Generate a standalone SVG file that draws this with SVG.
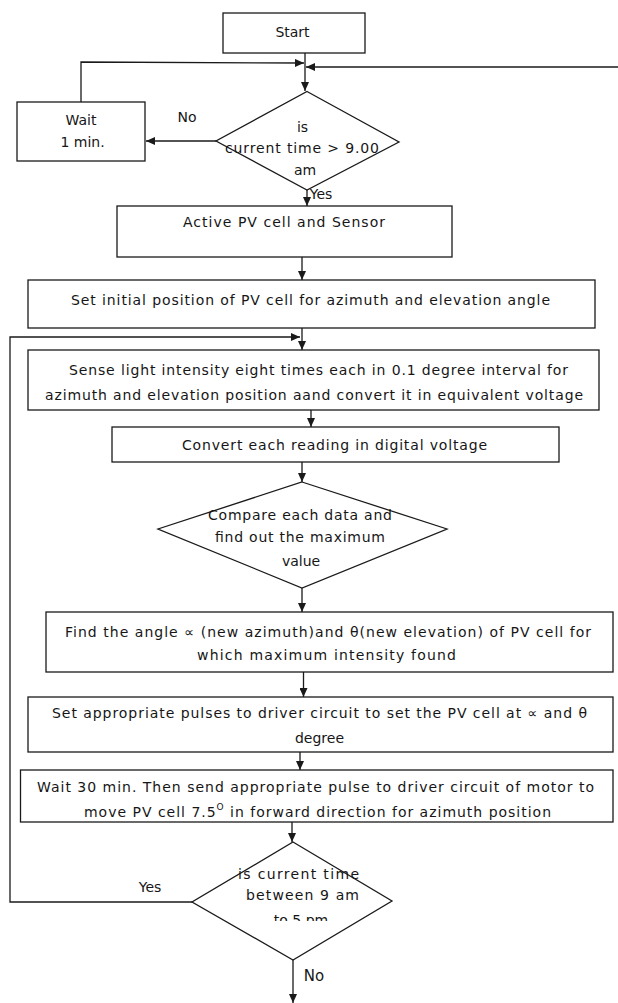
<svg xmlns="http://www.w3.org/2000/svg" width="618" height="1003" viewBox="0 0 618 1003">
<style>
.box{fill:#fff;stroke:#1a1a1a;stroke-width:1.3}
.ln{fill:none;stroke:#1a1a1a;stroke-width:1.3}
.arr{marker-end:url(#ah)}
text{font-family:"DejaVu Sans","Verdana",sans-serif;font-size:14px;fill:#161616;text-anchor:middle}
</style>
<defs>
<marker id="ah" markerUnits="userSpaceOnUse" markerWidth="9" markerHeight="8" refX="9" refY="4" orient="auto">
<path d="M0,0 L9,4 L0,8 z" fill="#1a1a1a"/>
</marker>
<clipPath id="clipTo5"><rect x="180" y="840" width="240" height="81"/></clipPath>
</defs>
<rect width="618" height="1003" fill="#fff"/>

<g id="connectors">
<line class="ln arr" x1="305" y1="53" x2="305" y2="91"/>
<polyline class="ln arr" points="81,102 81,62 304,63"/>
<line class="ln arr" x1="618" y1="67" x2="306" y2="67"/>
<line class="ln arr" x1="216" y1="141" x2="146" y2="141"/>
<line class="ln arr" x1="307" y1="190" x2="307" y2="206"/>
<line class="ln arr" x1="302" y1="257" x2="302" y2="280"/>
<line class="ln arr" x1="302" y1="328" x2="302" y2="350"/>
<polyline class="ln arr" points="192,902 10,902 10,337 300,337"/>
<line class="ln arr" x1="311" y1="410" x2="311" y2="427"/>
<line class="ln arr" x1="302" y1="462" x2="302" y2="482"/>
<line class="ln arr" x1="302" y1="588" x2="302" y2="612"/>
<line class="ln arr" x1="303.5" y1="672" x2="303.5" y2="697"/>
<line class="ln arr" x1="300" y1="752" x2="300" y2="770"/>
<line class="ln arr" x1="292" y1="822" x2="292" y2="842"/>
<line class="ln arr" x1="293" y1="960" x2="293" y2="1003"/>
<text x="187" y="122">No</text>
<text x="321" y="199">Yes</text>
<text x="150" y="892">Yes</text>
<text x="314" y="981" style="font-size:15px">No</text>
</g>

<g id="start">
<rect class="box" x="223" y="13" width="142" height="40"/>
<text x="292.5" y="37">Start</text>
</g>

<g id="wait1">
<rect class="box" x="17" y="102" width="128" height="59"/>
<text x="81" y="125">Wait</text>
<text x="82.5" y="147">1 min.</text>
</g>

<g id="decision1">
<polygon class="box" points="307,91.5 399,142 307,190 216,141"/>
<text x="302.5" y="132">is</text>
<text x="302" y="153" textLength="154">current time &gt; 9.00</text>
<text x="305" y="175">am</text>
</g>

<g id="active">
<rect class="box" x="117" y="206" width="335" height="51"/>
<text x="284" y="227" textLength="202">Active PV cell and Sensor</text>
</g>

<g id="setinit">
<rect class="box" x="28" y="280" width="567" height="48"/>
<text x="310.5" y="305" textLength="479">Set initial position of PV cell for azimuth and elevation angle</text>
</g>

<g id="sense">
<rect class="box" x="28" y="350" width="571" height="60"/>
<text x="318.5" y="375" textLength="499">Sense light intensity eight times each in 0.1 degree interval for</text>
<text x="314" y="400" textLength="538">azimuth and  elevation position aand convert it in equivalent voltage</text>
</g>

<g id="convert">
<rect class="box" x="112" y="427" width="447" height="35"/>
<text x="334.5" y="450" textLength="305">Convert each reading in digital voltage</text>
</g>

<g id="compare">
<polygon class="box" points="302,482 447,529 302,588 158,529"/>
<text x="300" y="520" textLength="184">Compare each data and</text>
<text x="300" y="542" textLength="170">find out the maximum</text>
<text x="301" y="566">value</text>
</g>

<g id="findangle">
<rect class="box" x="46" y="612" width="567" height="60"/>
<text x="328" y="637" textLength="526">Find the angle ∝ (new azimuth)and θ(new elevation) of PV cell for</text>
<text x="326.5" y="660" textLength="259">which maximum intensity found</text>
</g>

<g id="setpulses">
<rect class="box" x="28" y="697" width="585" height="55"/>
<text x="319.5" y="718" textLength="535">Set appropriate pulses to driver circuit to set the PV cell at ∝ and θ</text>
<text x="319.5" y="743">degree</text>
</g>

<g id="wait30">
<rect class="box" x="20.5" y="770" width="592.5" height="52"/>
<text x="315.5" y="792" textLength="557">Wait 30 min. Then send appropriate pulse to driver circuit of motor to</text>
<text x="317.5" y="817" textLength="467">move PV cell 7.5<tspan dy="-7" style="font-size:9px">O</tspan><tspan dy="7"> in forward direction for azimuth position</tspan></text>
</g>

<g id="decision2">
<polygon class="box" points="293,842 392,901 293,960 192,902"/>
<text x="298.5" y="879" textLength="121">is current time</text>
<text x="302.5" y="900" textLength="113">between 9 am</text>
<text x="301" y="925" clip-path="url(#clipTo5)">to 5 pm</text>
</g>
</svg>
